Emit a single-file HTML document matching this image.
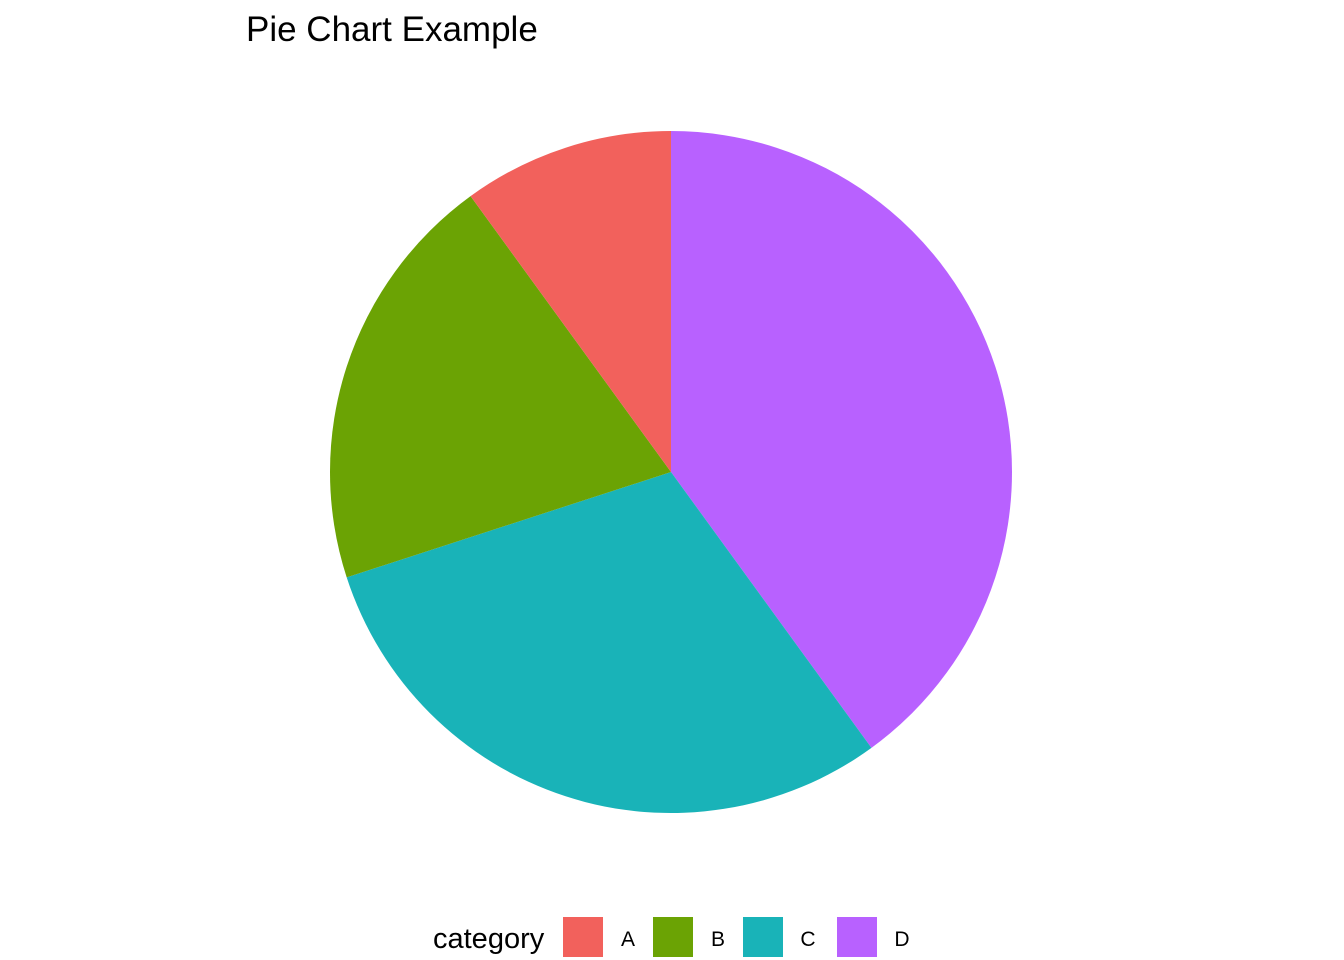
<!DOCTYPE html>
<html><head><meta charset="utf-8"><style>
body{margin:0;background:#fff;}
svg{display:block;font-family:"Liberation Sans",Arial,sans-serif;}
</style></head><body>
<svg id="chart" width="1344" height="960">
<text x="246" y="41" font-size="35" fill="#000">Pie Chart Example</text>
<g id="slices"></g>
<g id="legend">
<text x="433" y="948" font-size="29" fill="#000">category</text>
</g>
</svg>
<script>
const categories = ["A","B","C","D"];
const values = [10,20,30,40];
const colors = ["#F2615C","#6BA304","#19B3B8","#B861FF"];
const cx=671, cy=472, r=341;
const ns="http://www.w3.org/2000/svg";
const total=values.reduce((a,b)=>a+b,0);
const g=document.getElementById('slices');
function pt(frac){const a=frac*2*Math.PI;return [cx+r*Math.sin(a), cy-r*Math.cos(a)];}
let cum=0;
for(let k=categories.length-1;k>=0;k--){
  const s=cum/total; cum+=values[k]; const e=cum/total;
  const [x1,y1]=pt(s),[x2,y2]=pt(e);
  const large=(e-s)>0.5?1:0;
  const p=document.createElementNS(ns,'path');
  p.setAttribute('d',`M${cx},${cy}L${x1},${y1}A${r},${r} 0 ${large} 1 ${x2},${y2}Z`);
  p.setAttribute('fill',colors[k]);
  
  
  g.appendChild(p);
}
const lg=document.getElementById('legend');
const keyX=[563,653,743,837];
categories.forEach((c,i)=>{
  const rect=document.createElementNS(ns,'rect');
  rect.setAttribute('x',keyX[i]);rect.setAttribute('y',917);rect.setAttribute('width',40);rect.setAttribute('height',40);
  rect.setAttribute('fill',colors[i]);
  
  
  lg.appendChild(rect);
  const t=document.createElementNS(ns,'text');
  t.setAttribute('x',keyX[i]+65);t.setAttribute('y',946);t.setAttribute('font-size',21);t.setAttribute('text-anchor','middle');
  t.textContent=c;
  
  
  lg.appendChild(t);
});
</script>
</body></html>
